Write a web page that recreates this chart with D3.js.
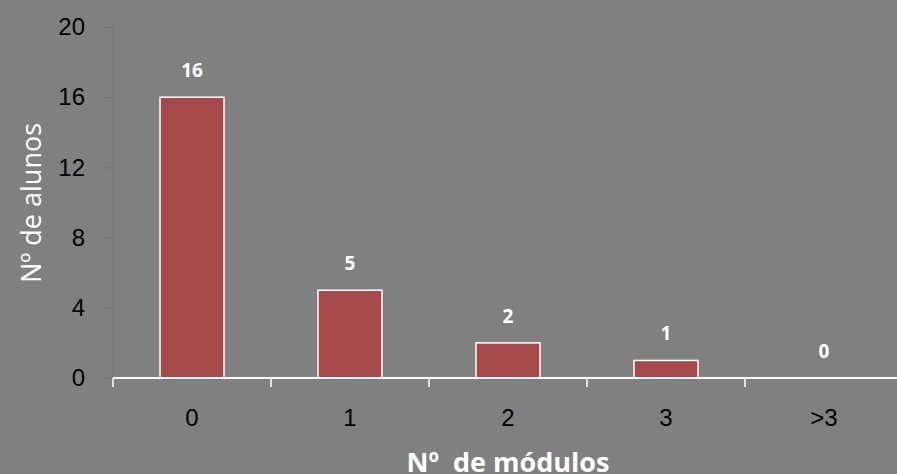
<!DOCTYPE html>
<html>
<head>
<meta charset="utf-8">
<script src="https://cdn.jsdelivr.net/npm/d3@7"></script>
<style>
  body { margin: 0; background: #808080; }
  svg { display: block; }
</style>
</head>
<body>
<script>
var categories = ["0", "1", "2", "3", ">3"];
var values = [16, 5, 2, 1, 0];
var yTicks = [0, 4, 8, 12, 16, 20];

var width = 897,
    height = 474;

var x = d3.scaleBand()
    .domain(categories)
    .range([113, 903])
    .paddingInner(0.595)
    .paddingOuter(0.2975);

var y = d3.scaleLinear()
    .domain([0, 20])
    .range([378, 27]);

var svg = d3.select("body").append("svg")
    .attr("width", width)
    .attr("height", height)
    .style("font-family", "'Open Sans', sans-serif");

svg.append("rect")
    .attr("width", width)
    .attr("height", height)
    .attr("fill", "#808080");

// y axis (faint)
var yAxis = svg.append("g")
    .attr("transform", "translate(113,0)")
    .call(d3.axisLeft(y).tickValues(yTicks).tickSize(10).tickPadding(18));
yAxis.select(".domain").attr("stroke", "#767676").attr("stroke-width", 1);
yAxis.selectAll(".tick line").attr("stroke", "#767676");
yAxis.selectAll(".tick text")
    .attr("fill", "#000")
    .style("font-size", "24px");

// bars
svg.append("g")
    .selectAll("rect")
    .data(values)
    .enter()
    .append("rect")
    .attr("x", function(d, i) { return x(categories[i]); })
    .attr("y", function(d) { return y(d); })
    .attr("width", x.bandwidth())
    .attr("height", function(d) { return y(0) - y(d); })
    .attr("fill", "#A6494A")
    .attr("stroke", "#fff")
    .attr("stroke-width", 1.5);

// value labels
svg.append("g")
    .selectAll("text")
    .data(values)
    .enter()
    .append("text")
    .attr("x", function(d, i) { return x(categories[i]) + x.bandwidth() / 2; })
    .attr("y", function(d) { return y(d) - 20; })
    .attr("text-anchor", "middle")
    .attr("fill", "#fff")
    .style("font-size", "19px")
    .style("font-weight", "bold")
    .text(function(d) { return d; });

// x axis
var xAxis = svg.append("g")
    .attr("transform", "translate(0,378)")
    .call(d3.axisBottom(x).tickSize(0).tickPadding(31));
xAxis.select(".domain").remove();
xAxis.selectAll(".tick text")
    .attr("fill", "#000")
    .style("font-size", "24px");

svg.append("line")
    .attr("x1", 113).attr("x2", width)
    .attr("y1", 378).attr("y2", 378)
    .attr("stroke", "#fff")
    .attr("stroke-width", 2);

// tick marks on band boundaries
var bounds = categories.map(function(c) { return x(c) - x.step() * x.paddingInner() / 2; });
bounds[0] = 113;
svg.append("g")
    .selectAll("line")
    .data(bounds)
    .enter()
    .append("line")
    .attr("x1", function(d) { return d; })
    .attr("x2", function(d) { return d; })
    .attr("y1", 378)
    .attr("y2", 387)
    .attr("stroke", "#fff")
    .attr("stroke-width", 1.5);

// axis titles
svg.append("text")
    .attr("transform", "translate(41,203) rotate(-90)")
    .attr("text-anchor", "middle")
    .attr("fill", "#fff")
    .style("font-size", "27px")
    .text("Nº de alunos");

svg.append("text")
    .attr("x", 508)
    .attr("y", 472)
    .attr("text-anchor", "middle")
    .attr("fill", "#fff")
    .style("font-size", "27px")
    .style("font-weight", "bold")
    .attr("xml:space", "preserve")
    .text("Nº  de módulos");
</script>
</body>
</html>
